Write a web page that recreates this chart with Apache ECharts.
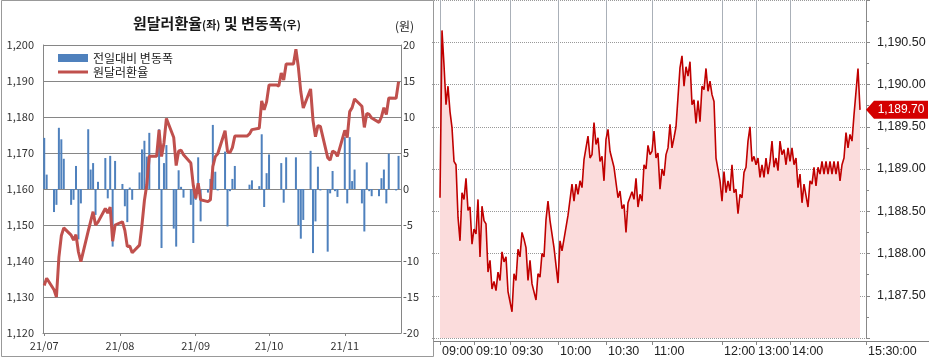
<!DOCTYPE html>
<html><head><meta charset="utf-8">
<script src="https://cdn.jsdelivr.net/npm/echarts@6/dist/echarts.min.js"></script>
<style>html,body{margin:0;padding:0;background:#fff}#c{width:929px;height:359px}</style>
</head><body><div id="c"></div>
<script>
// ---------- left panel: daily data ----------
const dates = [
'2021-07-01','2021-07-02','2021-07-05','2021-07-06','2021-07-07','2021-07-08','2021-07-09','2021-07-12','2021-07-13','2021-07-14','2021-07-15','2021-07-16','2021-07-19','2021-07-20','2021-07-21','2021-07-22','2021-07-23','2021-07-26','2021-07-27','2021-07-28','2021-07-29','2021-07-30',
'2021-08-02','2021-08-03','2021-08-04','2021-08-05','2021-08-06','2021-08-09','2021-08-10','2021-08-11','2021-08-12','2021-08-13','2021-08-16','2021-08-17','2021-08-18','2021-08-19','2021-08-20','2021-08-23','2021-08-24','2021-08-25','2021-08-26','2021-08-27','2021-08-30','2021-08-31',
'2021-09-01','2021-09-02','2021-09-03','2021-09-06','2021-09-07','2021-09-08','2021-09-09','2021-09-10','2021-09-13','2021-09-14','2021-09-15','2021-09-16','2021-09-17','2021-09-20','2021-09-21','2021-09-22','2021-09-23','2021-09-24','2021-09-27','2021-09-28','2021-09-29','2021-09-30',
'2021-10-01','2021-10-04','2021-10-05','2021-10-06','2021-10-07','2021-10-08','2021-10-11','2021-10-12','2021-10-13','2021-10-14','2021-10-15','2021-10-18','2021-10-19','2021-10-20','2021-10-21','2021-10-22','2021-10-25','2021-10-26','2021-10-27','2021-10-28','2021-10-29',
'2021-11-01','2021-11-02','2021-11-03','2021-11-04','2021-11-05','2021-11-08','2021-11-09','2021-11-10','2021-11-11','2021-11-12','2021-11-15','2021-11-16','2021-11-17','2021-11-18','2021-11-19','2021-11-22','2021-11-23'
];
const rate = [
1133.2,1135.2,1132.0,1130.0,1141.0,1147.0,1149.2,1147.2,1145.8,1147.3,1142.5,1139.8,1148.3,1151.0,1153.7,1150.0,1150.8,1154.6,1153.3,1155.0,1145.5,1150.0,
1150.9,1148.5,1144.0,1144.2,1142.3,1144.4,1150.0,1156.8,1161.3,1169.1,1169.1,1176.4,1169.0,1172.8,1179.6,1174.3,1166.5,1170.5,1170.8,1169.5,1167.2,1161.0,
1157.4,1161.6,1157.0,1156.5,1157.0,1166.2,1169.0,1169.8,1176.2,1170.4,1170.1,1171.5,1174.7,1174.7,1174.7,1174.7,1175.3,1176.5,1176.9,1184.5,1182.0,1184.2,
1188.9,1188.9,1188.6,1192.2,1190.3,1194.7,1194.7,1198.8,1193.8,1187.0,1182.5,1187.8,1179.0,1174.5,1177.6,1177.4,1168.7,1168.0,1170.5,1170.2,1169.1,
1176.3,1174.3,1181.5,1182.6,1185.0,1183.0,1177.1,1181.0,1180.7,1179.7,1178.5,1180.0,1182.6,1180.7,1185.3,1185.2,1189.8
];
const change = [
7.1,2.0,-3.2,-2.2,8.5,6.9,4.2,-2.2,-1.5,3.2,-7.0,-2.0,8.3,2.7,3.6,-3.6,1.0,4.3,-1.3,4.6,-8.0,3.9,
0.7,-2.4,-4.6,0.2,-1.5,2.3,5.5,6.7,4.5,7.8,null,8.3,-8.2,3.6,6.1,-5.5,-8.0,2.6,0.3,-1.2,-2.2,-7.5,
-1.5,4.4,-4.5,-0.5,1.4,8.9,2.4,-0.2,5.2,-5.2,-0.3,1.4,3.2,null,null,null,0.6,1.2,0.4,7.6,-2.5,2.2,
4.8,null,0,3.6,-1.9,4.4,null,4.4,-5.0,-6.9,-4.3,5.3,-8.9,-4.5,3.1,-0.2,-8.7,-0.6,2.5,-0.3,-1.1,
7.2,-2.0,7.2,1.1,2.7,-2.0,-5.9,3.7,-0.3,-1.0,-1.0,1.5,2.7,-2.0,4.9,-0.2,4.6
];
const monthTicks = ['2021-07-01','2021-08-01','2021-09-01','2021-10-01','2021-11-01'];
const monthLabels = ['21/07','21/08','21/09','21/10','21/11'];

// ---------- right panel: intraday ----------
const timeIndex = [4,21,39,63,87,110,145,162,179,217];
const timeLabels = ['09:00','09:10','09:30','10:00','10:30','11:00','12:00','13:00','14:00','15:30:00'];
const intraday = [
null,null,null,null,1188.66,1190.64,1190.23,1189.76,1189.98,1189.68,
1189.49,1189.09,1189.05,1188.43,1188.15,1188.72,1188.64,1188.89,1188.51,1188.55,
1188.11,1188.29,1188.23,1188.64,1187.96,1188.56,1188.39,1188.35,1187.78,1187.92,
1187.58,1187.67,1187.56,1187.78,1187.68,1188.02,1187.90,1187.96,1187.55,1187.56,
1187.31,1187.76,1187.68,1188.05,1187.96,1188.25,1188.17,1188.07,1187.68,1187.92,
1187.64,1187.66,1187.45,1187.76,1187.72,1188.00,1187.96,1188.40,1188.62,1188.39,
1188.37,1188.07,1188.05,1187.65,1188.15,1188.03,1188.17,1188.19,1188.45,1188.47,
1188.82,1188.62,1188.82,1188.70,1188.86,1188.78,1189.11,1189.13,1189.39,1189.13,
1189.17,1189.55,1189.29,1189.37,1189.09,1189.15,1188.86,1189.35,1189.47,1189.21,
1189.23,1189.02,1189.00,1188.66,1188.74,1188.53,1188.58,1188.25,1188.60,1188.58,
1188.73,1188.64,1188.89,1188.55,1188.70,1188.62,1189.05,1189.00,1189.28,1189.17,
1189.21,1189.45,1189.13,1189.19,1188.76,1189.00,1188.92,1189.17,1189.25,1189.53,
1189.25,1189.37,1189.50,1189.85,1190.20,1190.34,1189.98,1190.21,1190.10,1190.27,
1189.76,1189.82,1189.54,1189.81,1189.56,1189.98,1189.94,1190.19,1189.92,1190.04,
1189.88,1189.80,1189.13,1189.13,1188.86,1188.62,1188.97,1188.72,1188.86,1188.74,
1189.05,1188.72,1188.76,1188.47,1188.70,1188.66,1188.96,1189.02,1189.33,1189.50,
1189.09,1189.15,1189.05,1189.13,1188.90,1189.05,1188.90,1189.13,1188.94,1189.09,
1189.33,1189.02,1189.13,1188.98,1189.33,1189.17,1189.23,1189.05,1189.25,1189.09,
1189.25,1189.05,1189.13,1188.78,1188.94,1188.60,1188.82,1188.84,1188.55,1188.86,
1188.82,1189.02,1188.80,1189.02,1188.94,1189.09,1188.94,1189.09,1188.94,1189.09,
1188.94,1189.09,1188.94,1189.09,1188.86,1189.05,1189.13,1189.43,1189.25,1189.41,
1189.33,1189.64,1189.64,1190.19,1189.70
];
const lastPrice = 1189.70;
const catCount = 218;

// ---------- helpers ----------
function toTs(s){ const p = s.split('-').map(Number); return new Date(p[0], p[1]-1, p[2]).getTime(); }
const DAY = 86400000;
const monthTs = monthTicks.map(toTs);
const cats = [];
for (let i = 0; i < catCount; i++) { const k = timeIndex.indexOf(i); cats.push(k >= 0 ? timeLabels[k] : ''); }
const isTick = (idx) => timeIndex.indexOf(idx) >= 0;
function fmtComma(v){ return String(v).replace(/^(-?\d)(\d{3})/, '$1,$2'); }
function fmtPrice(v){ return v.toFixed(2).replace(/^(\d)(\d{3})/, '$1,$2'); }
function monthLabel(v){ let best = 0; for (let k = 0; k < monthTs.length; k++) if (Math.abs(monthTs[k]-v) < Math.abs(monthTs[best]-v)) best = k; return monthLabels[best]; }

const fontK = '"Noto Sans CJK KR","Noto Sans",sans-serif';
const fontR = '"Liberation Sans","DejaVu Sans",sans-serif';
const gridGray = '#868686';

const chart = echarts.init(document.getElementById('c'), null, {renderer:'canvas'});
chart.setOption({
  animation: false,
  backgroundColor: '#ffffff',
  title: {
    text: '{a|원달러환율}{b|(좌)}{a| 및 변동폭}{b|(우)}',
    left: 128, top: 11,
    textStyle: { rich: {
      a: { fontSize: 15, fontWeight: 'bold', fontFamily: fontK, color: '#1a1a1a' },
      b: { fontSize: 11, fontFamily: fontK, color: '#1a1a1a', padding: [3,0,0,0] }
    } }
  },
  legend: {
    left: 53, top: 47, orient: 'vertical', itemWidth: 30, itemHeight: 8, itemGap: 2,
    selectedMode: false,
    textStyle: { fontSize: 12, fontFamily: fontK, color: '#222' },
    data: [ { name: '전일대비 변동폭', icon: 'rect' }, { name: '원달러환율', icon: 'path://M0,0H30V3H0Z' } ]
  },
  grid: [
    { left: 43, top: 45, right: 528, bottom: 26 },
    { left: 432, top: -2, right: 63, bottom: 21 }
  ],
  xAxis: [
    { type: 'value', gridIndex: 0, scale: true,
      min: toTs('2021-06-30') + DAY/2, max: toTs('2021-11-24'),
      axisLine: { show: true, onZero: false, lineStyle: { color: gridGray } },
      axisTick: { show: true, customValues: monthTs, length: 3, lineStyle: { color: gridGray } },
      axisLabel: { customValues: monthTs, formatter: monthLabel,
        fontSize: 11, fontFamily: fontK, color: '#333', margin: 7, hideOverlap: false },
      splitLine: { show: false } },
    { type: 'category', gridIndex: 1, data: cats, boundaryGap: false, offset: 3,
      axisLine: { show: false },
      axisTick: { show: true, interval: isTick, length: 4, lineStyle: { color: '#888' } },
      axisLabel: { interval: isTick, align: 'left', margin: 4, padding: [0,0,0,2], fontSize: 12.5, fontFamily: fontR, color: '#222' },
      splitLine: { show: true, interval: isTick, lineStyle: { color: '#aab0b8', width: 1 } } }
  ],
  yAxis: [
    { type: 'value', gridIndex: 0, position: 'left', min: 1120, max: 1200, interval: 10,
      axisLine: { show: true, lineStyle: { color: gridGray } }, axisTick: { show: false },
      axisLabel: { formatter: fmtComma, fontSize: 11, fontFamily: fontK, color: '#333', margin: 9 },
      splitLine: { show: true, lineStyle: { color: gridGray, width: 1 } } },
    { type: 'value', gridIndex: 0, position: 'right', min: -20, max: 20, interval: 5,
      name: '(원)', nameLocation: 'end', nameGap: 13,
      nameTextStyle: { fontSize: 12, fontFamily: fontK, color: '#222', align: 'left', padding: [0,0,0,-6] },
      axisLine: { show: true, lineStyle: { color: gridGray } }, axisTick: { show: false },
      axisLabel: { fontSize: 11, fontFamily: fontK, color: '#333', margin: 2 },
      splitLine: { show: false } },
    { type: 'value', gridIndex: 1, position: 'right', min: 1187, max: 1191, interval: 0.5,
      axisLine: { show: true, lineStyle: { color: '#888' } },
      axisTick: { show: true, length: 4, lineStyle: { color: '#888' } },
      minorTick: { show: true, splitNumber: 2, length: 3, lineStyle: { color: '#888' } },
      axisLabel: { formatter: fmtPrice, showMinLabel: false, showMaxLabel: false, fontSize: 12.5, fontFamily: fontR, color: '#222', margin: 11 },
      splitLine: { show: true, lineStyle: { color: '#999', type: 'dotted', width: 1 } } }
  ],
  series: [
    { type: 'bar', name: '전일대비 변동폭', xAxisIndex: 0, yAxisIndex: 1,
      data: dates.map((d, i) => [toTs(d), change[i]]), barWidth: 2,
      itemStyle: { color: '#4f81bd' }, z: 2 },
    { type: 'line', name: '원달러환율', xAxisIndex: 0, yAxisIndex: 0,
      data: dates.map((d, i) => [toTs(d), rate[i]]), symbol: 'none',
      lineStyle: { width: 3, color: '#c0504d' }, itemStyle: { color: '#c0504d' }, z: 3 },
    { type: 'line', name: 'intraday', xAxisIndex: 1, yAxisIndex: 2, data: intraday, symbol: 'none',
      lineStyle: { width: 1.6, color: '#c00000' }, itemStyle: { color: '#c00000' },
      areaStyle: { color: '#fbdcdc', origin: 'start', opacity: 1 }, z: 3,
      markPoint: { silent: true, animation: false,
        symbol: 'path://M0,9L8,0H62V18H8Z', symbolSize: [62, 18], symbolKeepAspect: false, symbolOffset: [31, 0],
        itemStyle: { color: '#d40000' },
        label: { show: true, position: 'inside', offset: [4, 0], formatter: () => fmtPrice(lastPrice), color: '#fff', fontSize: 12, fontFamily: fontR },
        data: [ { coord: [catCount - 1, lastPrice], value: lastPrice } ] } }
  ],
  graphic: [
    { type: 'rect', silent: true, z: 100, shape: { x: 1.5, y: 0.5, width: 432, height: 356 }, style: { fill: null, stroke: '#999', lineWidth: 1 } },
    { type: 'line', silent: true, z: 100, shape: { x1: 433.5, y1: 341.5, x2: 929, y2: 341.5 }, style: { stroke: '#808080', lineWidth: 1 } }
  ]
});
</script>
</body></html>
